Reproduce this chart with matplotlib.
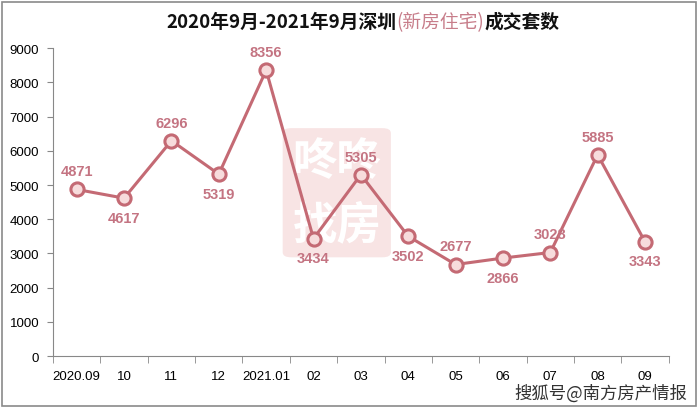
import numpy as np
import matplotlib.pyplot as plt
from matplotlib.patches import FancyBboxPatch, Rectangle

plt.rcParams['font.family'] = ['Noto Sans CJK SC', 'DejaVu Sans']

months = ["2020.09", "10", "11", "12", "2021.01", "02", "03", "04", "05", "06", "07", "08", "09"]
sales = [4871, 4617, 6296, 5319, 8356, 3434, 5305, 3502, 2677, 2866, 3028, 5885, 3343]
# label placement: 1 above, -1 below
label_side = [1, -1, 1, -1, 1, -1, 1, -1, 1, -1, 1, 1, -1]
yticks = list(range(0, 10000, 1000))

line_c = '#c46a74'
label_c = '#c47482'
num_font = ['Liberation Sans', 'DejaVu Sans']

fig = plt.figure(figsize=(6.98, 4.10), dpi=100)
ax = fig.add_axes([0.076, 0.129, 0.882, 0.751])

# outer frame
fig.patches.append(Rectangle((0.003, 0.008), 0.994, 0.985, transform=fig.transFigure,
                             fill=False, edgecolor='#8a8a8a', linewidth=1.2))

# faint watermark box in the middle, drawn under the line
wm = FancyBboxPatch((0.405, 0.37), 0.155, 0.315, boxstyle='round,pad=0.0,rounding_size=0.012',
                    transform=fig.transFigure, facecolor='#f8e4e4', edgecolor='none', zorder=0,
                    clip_on=False)
ax.add_patch(wm)
ax.text(0.483, 0.605, '咚咚', transform=fig.transFigure, fontsize=32, color='white',
        ha='center', va='center', fontweight='bold', zorder=1)
ax.text(0.483, 0.45, '找房', transform=fig.transFigure, fontsize=32, color='white',
        ha='center', va='center', fontweight='bold', zorder=1)

x = np.arange(len(months))
ax.plot(x, sales, color=line_c, linewidth=2.2, zorder=3)
ax.scatter(x, sales, s=90, facecolor='#f7dcdc', edgecolor=line_c, linewidths=2.2, zorder=4)

for xi, v, side in zip(x, sales, label_side):
    off = 13 if side > 0 else -14
    ax.annotate(str(v), (xi, v), xytext=(0, off), textcoords='offset points',
                ha='center', va='center', fontsize=10.5, fontweight='bold', color=label_c,
                family=num_font, zorder=5)

ax.set_xlim(-0.5, len(months) - 0.5)
ax.set_ylim(0, 9000)
ax.set_yticks(yticks)
ax.set_yticklabels([str(t) for t in yticks], fontsize=9.5, family=num_font)
ax.set_xticks(x)
ax.set_xticklabels(months, fontsize=9.5, family=num_font)
ax.set_xticks(np.arange(-0.5, len(months)), minor=True)
ax.tick_params(axis='x', which='major', length=0, pad=10)
ax.tick_params(axis='x', which='minor', length=5, color='#888888')
ax.tick_params(axis='y', length=4, color='#888888', pad=6)

for s in ['top', 'right']:
    ax.spines[s].set_visible(False)
for s in ['left', 'bottom']:
    ax.spines[s].set_color('#888888')

# title in three segments
fig.canvas.draw()
r = fig.canvas.get_renderer()
parts = [("2020年9月-2021年9月深圳", '#111111', 'bold'),
         ("(新房住宅)", '#c77d8a', 'normal'),
         ("成交套数", '#111111', 'bold')]
texts = []
widths = []
for s, c, w in parts:
    t = fig.text(0, 0.945, s, fontsize=13.5, color=c, fontweight=w, va='center', ha='left')
    texts.append(t)
    widths.append(t.get_window_extent(renderer=r).width)
total = sum(widths)
start = (698 / 2 - total / 2 + 14)
for t, w in zip(texts, widths):
    t.set_x(start / 698)
    start += w

fig.text(0.985, 0.018, '搜狐号@南方房产情报', fontsize=12.5, color='#333333', ha='right', va='bottom')

fig.savefig('out.png', dpi=100)
